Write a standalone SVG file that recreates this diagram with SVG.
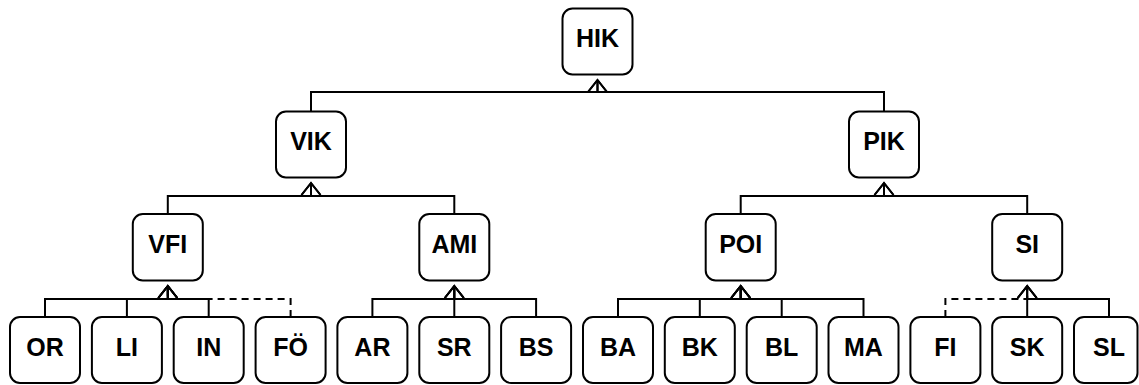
<svg xmlns="http://www.w3.org/2000/svg" width="1139" height="385" viewBox="0 0 1139 385">
  <style>
    .box { fill: #ffffff; stroke: #000000; stroke-width: 2; }
    .lbl { font-family: "Liberation Sans", Arial, sans-serif; font-weight: bold; font-size: 25px; fill: #000000; text-anchor: middle; }
    .edge { fill: none; stroke: #000000; stroke-width: 2; marker-end: url(#gen); }
    .dashed { stroke-dasharray: 7 5; }
  </style>
  <defs>
    <marker id="gen" markerUnits="userSpaceOnUse" viewBox="0 0 12 20" refX="12" refY="10" markerWidth="12" markerHeight="20" orient="auto" overflow="visible">
      <path d="M0,0.5 L12,10 L0,19.5" fill="none" stroke="#000000" stroke-width="2" stroke-linejoin="miter"/>
    </marker>
  </defs>
  <rect width="1139" height="385" fill="#ffffff"/>

  <g id="connectors">
    <!-- level 1 -->
    <path class="edge" d="M311,111.5 V92 H597.5 V80"/>
    <path class="edge" d="M884,111.5 V92 H597.5 V80"/>
    <!-- level 2 -->
    <path class="edge" d="M167.8,214 V196 H311 V183"/>
    <path class="edge" d="M454.3,214 V196 H311 V183"/>
    <path class="edge" d="M740.7,214 V196 H884 V183"/>
    <path class="edge" d="M1027.2,214 V196 H884 V183"/>
    <!-- level 3: VFI -->
    <path class="edge" d="M45,317 V299 H167.8 V286"/>
    <path class="edge" d="M126.9,317 V299 H167.8 V286"/>
    <path class="edge" d="M208.7,317 V299 H167.8 V286"/>
    <path class="edge dashed" d="M290.6,317 V299 H167.8 V286"/>
    <!-- AMI -->
    <path class="edge" d="M372.4,317 V299 H454.3 V286"/>
    <path class="edge" d="M454.3,317 V286"/>
    <path class="edge" d="M536.1,317 V299 H454.3 V286"/>
    <!-- POI -->
    <path class="edge" d="M618,317 V299 H740.7 V286"/>
    <path class="edge" d="M699.8,317 V299 H740.7 V286"/>
    <path class="edge" d="M781.7,317 V299 H740.7 V286"/>
    <path class="edge" d="M863.5,317 V299 H740.7 V286"/>
    <!-- SI -->
    <path class="edge dashed" d="M945.4,317 V299 H1027.2 V286"/>
    <path class="edge" d="M1027.2,317 V286"/>
    <path class="edge" d="M1109,317 V299 H1027.2 V286"/>
  </g>

  <g id="HIK"><rect class="box" x="562.5" y="8.5" width="70" height="66" rx="10"/><text class="lbl" x="597.5" y="47">HIK</text></g>
  <g id="VIK"><rect class="box" x="276" y="111.5" width="70" height="66" rx="10"/><text class="lbl" x="311" y="150">VIK</text></g>
  <g id="PIK"><rect class="box" x="849" y="111.5" width="70" height="66" rx="10"/><text class="lbl" x="884" y="150">PIK</text></g>

  <g id="VFI"><rect class="box" x="132.8" y="214" width="70" height="66.5" rx="10"/><text class="lbl" x="167.8" y="253">VFI</text></g>
  <g id="AMI"><rect class="box" x="419.3" y="214" width="70" height="66.5" rx="10"/><text class="lbl" x="454.3" y="253">AMI</text></g>
  <g id="POI"><rect class="box" x="705.7" y="214" width="70" height="66.5" rx="10"/><text class="lbl" x="740.7" y="253">POI</text></g>
  <g id="SI"><rect class="box" x="992.2" y="214" width="70" height="66.5" rx="10"/><text class="lbl" x="1027.2" y="253">SI</text></g>

  <g id="OR"><rect class="box" x="10" y="317" width="70" height="66" rx="10"/><text class="lbl" x="45" y="355.5">OR</text></g>
  <g id="LI"><rect class="box" x="91.9" y="317" width="70" height="66" rx="10"/><text class="lbl" x="126.9" y="355.5">LI</text></g>
  <g id="IN"><rect class="box" x="173.7" y="317" width="70" height="66" rx="10"/><text class="lbl" x="208.7" y="355.5">IN</text></g>
  <g id="FO"><rect class="box" x="255.6" y="317" width="70" height="66" rx="10"/><text class="lbl" x="290.6" y="355.5">FÖ</text></g>
  <g id="AR"><rect class="box" x="337.4" y="317" width="70" height="66" rx="10"/><text class="lbl" x="372.4" y="355.5">AR</text></g>
  <g id="SR"><rect class="box" x="419.3" y="317" width="70" height="66" rx="10"/><text class="lbl" x="454.3" y="355.5">SR</text></g>
  <g id="BS"><rect class="box" x="501.1" y="317" width="70" height="66" rx="10"/><text class="lbl" x="536.1" y="355.5">BS</text></g>
  <g id="BA"><rect class="box" x="583" y="317" width="70" height="66" rx="10"/><text class="lbl" x="618" y="355.5">BA</text></g>
  <g id="BK"><rect class="box" x="664.8" y="317" width="70" height="66" rx="10"/><text class="lbl" x="699.8" y="355.5">BK</text></g>
  <g id="BL"><rect class="box" x="746.7" y="317" width="70" height="66" rx="10"/><text class="lbl" x="781.7" y="355.5">BL</text></g>
  <g id="MA"><rect class="box" x="828.5" y="317" width="70" height="66" rx="10"/><text class="lbl" x="863.5" y="355.5">MA</text></g>
  <g id="FI"><rect class="box" x="910.4" y="317" width="70" height="66" rx="10"/><text class="lbl" x="945.4" y="355.5">FI</text></g>
  <g id="SK"><rect class="box" x="992.2" y="317" width="70" height="66" rx="10"/><text class="lbl" x="1027.2" y="355.5">SK</text></g>
  <g id="SL"><rect class="box" x="1074" y="317" width="63.5" height="66" rx="10"/><text class="lbl" x="1109" y="355.5">SL</text></g>
</svg>
